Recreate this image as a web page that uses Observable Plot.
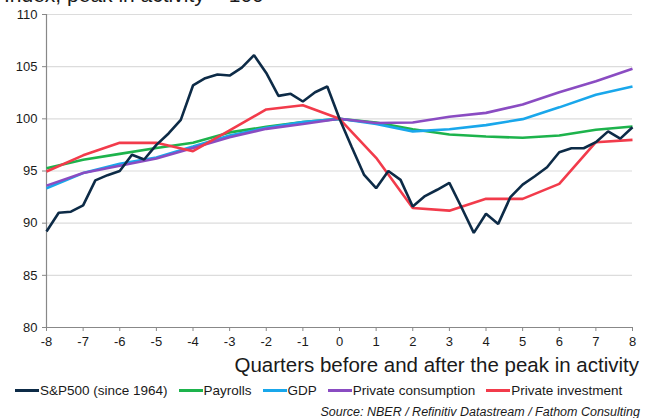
<!DOCTYPE html>
<html>
<head>
<meta charset="utf-8">
<script src="https://cdn.jsdelivr.net/npm/d3@7"></script>
<script src="https://cdn.jsdelivr.net/npm/@observablehq/plot@0.6"></script>
<style>
  html, body { margin: 0; padding: 0; background: #fff; }
  #wrap { position: relative; width: 652px; height: 418px; overflow: hidden; font-family: "Liberation Sans", Arial, sans-serif; color: #1a1a1a; }
  #chart { position: absolute; left: 0; top: 0; }
  .abs { position: absolute; white-space: nowrap; }
  #title { left: 4px; top: -17px; font-size: 21px; line-height: 24px; }
  #xlabel { right: 13px; top: 353px; font-size: 20.5px; }
  #legend { left: 15px; top: 383px; font-size: 13.5px; display: flex; align-items: center; }
  #legend .item { display: flex; align-items: center; margin-right: 11px; }
  #legend .sw { width: 24px; height: 3px; margin-right: 1px; }
  #source { right: 12px; top: 405px; font-size: 12.5px; font-style: italic; }
</style>
</head>
<body>
<div id="wrap">
  <div id="chart"></div>
  <div id="title" class="abs">Index, peak in activity = 100</div>
  <div id="xlabel" class="abs">Quarters before and after the peak in activity</div>
  <div id="legend" class="abs"></div>
  <div id="source" class="abs">Source: NBER / Refinitiv Datastream / Fathom Consulting</div>
</div>
<script>
// Quarterly x positions
const quarters = [-8,-7,-6,-5,-4,-3,-2,-1,0,1,2,3,4,5,6,7,8];
// Monthly S&P500 values (every third of a quarter, -8 to 8)
const spx = [89.2,91.0,91.1,91.7,94.1,94.6,95.0,96.55,96.1,97.5,98.6,99.9,
  103.2,103.9,104.25,104.15,104.9,106.1,104.4,102.2,102.4,101.66,102.55,103.1,
  100.0,97.3,94.66,93.35,95.0,94.15,91.6,92.6,93.2,93.86,91.5,89.07,
  90.9,89.93,92.5,93.7,94.5,95.36,96.8,97.18,97.18,97.76,98.8,98.1,99.2];
const payrolls = [95.27,96.07,96.64,97.2,97.7,98.7,99.23,99.7,100,99.65,99.0,98.5,98.3,98.18,98.4,98.95,99.27];
const gdp = [93.35,94.8,95.7,96.3,97.34,98.4,99.14,99.7,100,99.5,98.8,99.0,99.4,99.97,101.1,102.3,103.1];
const consumption = [93.6,94.8,95.5,96.2,97.2,98.24,99.04,99.5,100,99.6,99.65,100.2,100.57,101.37,102.55,103.6,104.8];
const investment = [94.95,96.5,97.7,97.7,96.9,98.9,100.9,101.3,100,96.26,91.46,91.2,92.33,92.33,93.77,97.76,97.98];
const seriesNames = ["S&P500 (since 1964)","Payrolls","GDP","Private consumption","Private investment"];
const seriesColors = ["#0d2b47","#1db34c","#19a7eb","#8a4cc2","#f23b4b"];
const yTicks = [80,85,90,95,100,105,110];

const spxData = spx.map((v,i) => ({x: -8 + i/3, y: v, s: seriesNames[0]}));
const q = (arr, name) => arr.map((v,i) => ({x: quarters[i], y: v, s: name}));
const data = [
  ...q(payrolls, seriesNames[1]),
  ...q(gdp, seriesNames[2]),
  ...q(consumption, seriesNames[3]),
  ...q(investment, seriesNames[4]),
  ...spxData
];
const fmt = d => d < 0 ? "-" + Math.abs(d) : String(d);

const chart = Plot.plot({
  width: 652,
  height: 418,
  marginLeft: 46,
  marginRight: 20,
  marginTop: 14,
  marginBottom: 91,
  style: {fontFamily: "Liberation Sans, Arial, sans-serif", fontSize: "13px", color: "#1a1a1a", background: "transparent"},
  x: {domain: [-8, 8], label: null},
  y: {domain: [80, 110], label: null},
  color: {domain: seriesNames, range: seriesColors},
  marks: [
    Plot.gridY(yTicks.filter(d => d > 80), {stroke: "#dcdcdc", strokeOpacity: 1, strokeWidth: 1.2}),
    Plot.axisY({ticks: yTicks, tickSize: 4, tickPadding: 5, stroke: "#888", label: null}),
    Plot.axisX({ticks: quarters, tickSize: 4, tickPadding: 5, stroke: "#888", label: null, tickFormat: fmt}),
    Plot.ruleX([-8], {stroke: "#888", strokeWidth: 1.2}),
    Plot.ruleY([80], {stroke: "#888", strokeWidth: 1.2}),
    Plot.line(data, {x: "x", y: "y", z: "s", stroke: "s", strokeWidth: 2.6, strokeLinejoin: "miter", strokeLinecap: "butt"})
  ]
});
document.getElementById("chart").appendChild(chart);

const legend = document.getElementById("legend");
seriesNames.forEach((n, i) => {
  const it = document.createElement("div");
  it.className = "item";
  const sw = document.createElement("span");
  sw.className = "sw";
  sw.style.background = seriesColors[i];
  const t = document.createElement("span");
  t.textContent = n;
  it.appendChild(sw); it.appendChild(t);
  legend.appendChild(it);
});
</script>
</body>
</html>
